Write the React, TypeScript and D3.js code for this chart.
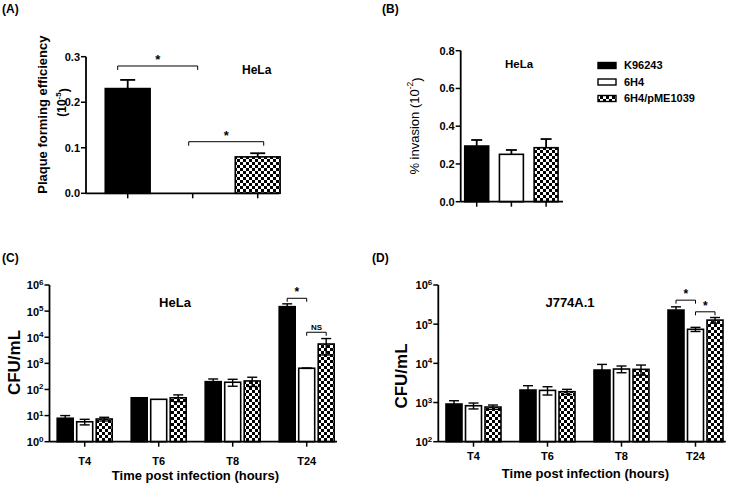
import React from "react";
import * as d3 from "d3";

// ---------- DATA ----------
const strains = ["K96243", "6H4", "6H4/pME1039"];
const timepoints = ["T4", "T6", "T8", "T24"];

// (A) plaque forming efficiency (10^-5)
const pfeMean = [0.23, 0, 0.08];
const pfeErr = [0.019, 0, 0.008];
const pfeTicks = [0, 0.1, 0.2, 0.3];

// (B) % invasion (10^-2)
const invMean = [0.295, 0.251, 0.286];
const invErr = [0.032, 0.023, 0.046];
const invTicks = [0, 0.2, 0.4, 0.6, 0.8];

// (C) HeLa CFU/mL
const helaK96243 = [7.9, 48, 199, 148000];
const helaK96243Err = [2.1, 0, 53, 42000];
const hela6H4 = [5.8, 42, 189, 650];
const hela6H4Err = [1.4, 0, 56, 10];
const helaComp = [7.4, 48, 212, 5500];
const helaCompErr = [1.2, 14, 82, 3400];
const helaExp = [0, 1, 2, 3, 4, 5, 6];

// (D) J774A.1 CFU/mL
const jK96243 = [916, 2084, 6750, 229000];
const jK96243Err = [195, 608, 2650, 48000];
const j6H4 = [828, 2042, 7160, 74000];
const j6H4Err = [142, 488, 1400, 9000];
const jComp = [767, 1888, 7030, 127000];
const jCompErr = [96, 282, 2020, 21000];
const jExp = [2, 3, 4, 5, 6];

const FONT = "'Liberation Sans', Arial, Helvetica, sans-serif";
const fills = ["#000", "#fff", "url(#checker)"];

function PanelLabel({ x, y, t }: { x: number; y: number; t: string }) {
  return (
    <text x={x} y={y} fontSize={12} fontWeight="bold">
      {t}
    </text>
  );
}

function LinearPanel(props: {
  axisX: number;
  y0: number;
  y1: number;
  max: number;
  ticks: number[];
  bandRange: [number, number];
  axisEnd: number;
  mean: number[];
  err: number[];
  cap: number;
}) {
  const { axisX, y0, y1, max, ticks, bandRange, axisEnd, mean, err, cap } = props;
  const y = d3.scaleLinear().domain([0, max]).range([y0, y1]);
  const x = d3.scaleBand<string>().domain(strains).range(bandRange).paddingInner(0.31).paddingOuter(0.155);
  const bw = x.bandwidth();
  return (
    <g>
      {strains.map((s, i) =>
        mean[i] > 0 ? (
          <rect key={s} x={x(s)!} y={y(mean[i])} width={bw} height={y0 - y(mean[i])} fill={fills[i]} stroke="#000" strokeWidth={1.6} />
        ) : null
      )}
      {strains.map((s, i) =>
        mean[i] > 0 ? (
          <g key={s} stroke="#000" strokeWidth={1.8}>
            <line x1={x(s)! + bw / 2} x2={x(s)! + bw / 2} y1={y(mean[i])} y2={y(mean[i] + err[i])} />
            <line x1={x(s)! + bw / 2 - cap / 2} x2={x(s)! + bw / 2 + cap / 2} y1={y(mean[i] + err[i])} y2={y(mean[i] + err[i])} />
          </g>
        ) : null
      )}
      <line x1={axisX} x2={axisX} y1={y0} y2={y1} stroke="#000" strokeWidth={1.8} />
      <line x1={axisX} x2={axisEnd} y1={y0} y2={y0} stroke="#000" strokeWidth={1.8} />
      {ticks.map((t) => (
        <g key={t}>
          <line x1={axisX - 5} x2={axisX} y1={y(t)} y2={y(t)} stroke="#000" strokeWidth={1.5} />
          <text x={axisX - 6} y={y(t)} dy="0.35em" textAnchor="end" fontSize={11} fontWeight="bold">
            {t.toFixed(1)}
          </text>
        </g>
      ))}
      {strains.map((s) => (
        <line key={s} x1={x(s)! + bw / 2} x2={x(s)! + bw / 2} y1={y0} y2={y0 + 5} stroke="#000" strokeWidth={1.5} />
      ))}
    </g>
  );
}

function LogPanel(props: {
  axisX: number;
  minExp: number;
  exps: number[];
  series: number[][];
  errs: number[][];
  labelY: number;
  brackets: { t: number; a: number; b: number; v: number; label: string; fs: number }[];
}) {
  const { axisX, minExp, exps, series, errs, labelY, brackets } = props;
  const y0 = 441.7;
  const y = d3.scaleLog().domain([Math.pow(10, minExp), 1e6]).range([y0, 285]);
  const xg = d3.scaleBand<string>().domain(timepoints).range([axisX - 1.8, axisX - 1.8 + 296]);
  const xs = d3.scaleBand<string>().domain(strains).range([-29.25, 29.25]).paddingInner(0.18).paddingOuter(0.09);
  const bw = xs.bandwidth();
  const gc = (t: string) => xg(t)! + xg.bandwidth() / 2;
  const bc = (ti: number, si: number) => gc(timepoints[ti]) + xs(strains[si])! + bw / 2;
  return (
    <g>
      {timepoints.map((t, ti) =>
        strains.map((s, si) => {
          const v = series[si][ti];
          return (
            <rect key={t + s} x={gc(t) + xs(s)!} y={y(v)} width={bw} height={y0 - y(v)} fill={fills[si]} stroke="#000" strokeWidth={1.6} />
          );
        })
      )}
      {timepoints.map((t, ti) =>
        strains.map((s, si) => {
          const v = series[si][ti];
          const e = errs[si][ti];
          if (e <= 0) return null;
          const cx = bc(ti, si);
          const hi = y(v + e);
          const lo = y(Math.max(v - e, 1e-9));
          return (
            <g key={t + s} stroke="#000" strokeWidth={1.4}>
              <line x1={cx} x2={cx} y1={lo} y2={hi} />
              <line x1={cx - 5} x2={cx + 5} y1={hi} y2={hi} />
              <line x1={cx - 5} x2={cx + 5} y1={lo} y2={lo} />
            </g>
          );
        })
      )}
      <line x1={axisX} x2={axisX} y1={y0} y2={285} stroke="#000" strokeWidth={1.8} />
      <line x1={axisX} x2={axisX + 287.5} y1={y0} y2={y0} stroke="#000" strokeWidth={1.8} />
      {exps.map((e) => (
        <g key={e}>
          <line x1={axisX - 5} x2={axisX} y1={y(Math.pow(10, e))} y2={y(Math.pow(10, e))} stroke="#000" strokeWidth={1.5} />
          <text x={axisX - 6} y={y(Math.pow(10, e))} dy="0.4em" textAnchor="end" fontSize={11} fontWeight="bold">
            10
            <tspan dy="-0.55em" fontSize={8}>
              {e}
            </tspan>
          </text>
        </g>
      ))}
      {timepoints.map((t) => (
        <g key={t}>
          <line x1={gc(t)} x2={gc(t)} y1={y0} y2={y0 + 5} stroke="#000" strokeWidth={1.5} />
          <text x={gc(t)} y={labelY} textAnchor="middle" fontSize={11} fontWeight="bold">
            {t}
          </text>
        </g>
      ))}
      {brackets.map((b, i) => {
        const xa = bc(b.t, b.a);
        const xb = bc(b.t, b.b);
        const yy = y(b.v);
        return (
          <g key={i}>
            <path d={`M${xa},${yy + 3.5}V${yy}H${xb}V${yy + 3.5}`} fill="none" stroke="#000" strokeWidth={1} />
            <text x={(xa + xb) / 2} y={yy - 2} textAnchor="middle" fontSize={b.fs} fontWeight="bold">
              {b.label}
            </text>
          </g>
        );
      })}
    </g>
  );
}

export default function App() {
  const yA = d3.scaleLinear().domain([0, 0.3]).range([193.3, 56.7]);
  const xA = d3.scaleBand<string>().domain(strains).range([95.2, 290.2]).paddingInner(0.31).paddingOuter(0.155);
  const cA = (i: number) => xA(strains[i])! + xA.bandwidth() / 2;
  const bracketsA = [
    { a: 0, b: 1, v: 0.2796, dxa: -10, dxb: 5 },
    { a: 1, b: 2, v: 0.1133, dxa: -4, dxb: 6 },
  ];
  return (
    <svg width={733} height={485} style={{ position: "absolute", left: 0, top: 0, background: "#fff" }} fontFamily={FONT}>
      <defs>
        <pattern id="checker" width={6} height={6} patternUnits="userSpaceOnUse">
          <rect width={6} height={6} fill="#fff" />
          <rect width={3} height={3} fill="#000" />
          <rect x={3} y={3} width={3} height={3} fill="#000" />
        </pattern>
      </defs>
      <rect width={733} height={485} fill="#fff" />

      {/* (A) */}
      <PanelLabel x={2} y={13} t="(A)" />
      <LinearPanel axisX={86} y0={193.3} y1={56.7} max={0.3} ticks={pfeTicks} bandRange={[95.2, 290.2]} axisEnd={279} mean={pfeMean} err={pfeErr} cap={15} />
      {bracketsA.map((b, i) => {
        const xa = cA(b.a) + b.dxa;
        const xb = cA(b.b) + b.dxb;
        const yy = yA(b.v);
        return (
          <g key={i}>
            <path d={`M${xa},${yy + 4}V${yy}H${xb}V${yy + 4}`} fill="none" stroke="#000" strokeWidth={1} />
            <text x={(xa + xb) / 2} y={yy - 2} textAnchor="middle" fontSize={13} fontWeight="bold">
              *
            </text>
          </g>
        );
      })}
      <text x={256.7} y={74} textAnchor="middle" fontSize={12} fontWeight="bold">
        HeLa
      </text>
      <text transform="translate(42,114.7) rotate(-90)" textAnchor="middle" dominantBaseline="central" fontSize={13} fontWeight="bold">
        Plaque forming efficiency
      </text>
      <text transform="translate(62,102.5) rotate(-90)" textAnchor="middle" dominantBaseline="central" fontSize={12} fontWeight="bold">
        (10
        <tspan dy="-0.5em" fontSize={8}>
          -5
        </tspan>
        <tspan dy="0.5em">)</tspan>
      </text>

      {/* (B) */}
      <PanelLabel x={382} y={13} t="(B)" />
      <LinearPanel axisX={460.7} y0={201.7} y1={50.7} max={0.8} ticks={invTicks} bandRange={[459.35, 563.45]} axisEnd={563} mean={invMean} err={invErr} cap={11} />
      <text x={519} y={68.3} textAnchor="middle" fontSize={11.5} fontWeight="bold">
        HeLa
      </text>
      <text transform="translate(414,126) rotate(-90)" textAnchor="middle" dominantBaseline="central" fontSize={13}>
        % invasion (10
        <tspan dy="-0.5em" fontSize={8.5}>
          -2
        </tspan>
        <tspan dy="0.5em">)</tspan>
      </text>
      {strains.map((s, i) => {
        const ry = 65.5 + i * 16.5;
        return (
          <g key={s}>
            <rect x={598} y={ry - 3} width={18} height={6} fill={fills[i]} stroke="#000" strokeWidth={1.4} />
            <text x={624} y={ry} dy="0.36em" fontSize={11} fontWeight="bold">
              {s}
            </text>
          </g>
        );
      })}

      {/* (C) */}
      <PanelLabel x={2} y={262} t="(C)" />
      <LogPanel
        axisX={49.5}
        minExp={0}
        exps={helaExp}
        series={[helaK96243, hela6H4, helaComp]}
        errs={[helaK96243Err, hela6H4Err, helaCompErr]}
        labelY={465}
        brackets={[
          { t: 3, a: 0, b: 1, v: 3.1e5, label: "*", fs: 12 },
          { t: 3, a: 1, b: 2, v: 1.55e4, label: "NS", fs: 8 },
        ]}
      />
      <text x={175} y={306.7} textAnchor="middle" fontSize={13} fontWeight="bold">
        HeLa
      </text>
      <text transform="translate(14,362.5) rotate(-90)" textAnchor="middle" dominantBaseline="central" fontSize={17} fontWeight="bold">
        CFU/mL
      </text>
      <text x={195.5} y={480} textAnchor="middle" fontSize={13} fontWeight="bold">
        Time post infection (hours)
      </text>

      {/* (D) */}
      <PanelLabel x={372} y={262} t="(D)" />
      <LogPanel
        axisX={438.3}
        minExp={2}
        exps={jExp}
        series={[jK96243, j6H4, jComp]}
        errs={[jK96243Err, j6H4Err, jCompErr]}
        labelY={460}
        brackets={[
          { t: 3, a: 0, b: 1, v: 4.1e5, label: "*", fs: 12 },
          { t: 3, a: 1, b: 2, v: 2.07e5, label: "*", fs: 12 },
        ]}
      />
      <text x={570} y={307.3} textAnchor="middle" fontSize={13} fontWeight="bold">
        J774A.1
      </text>
      <text transform="translate(401,376) rotate(-90)" textAnchor="middle" dominantBaseline="central" fontSize={17} fontWeight="bold">
        CFU/mL
      </text>
      <text x={585.5} y={478} textAnchor="middle" fontSize={13} fontWeight="bold">
        Time post infection (hours)
      </text>
    </svg>
  );
}
